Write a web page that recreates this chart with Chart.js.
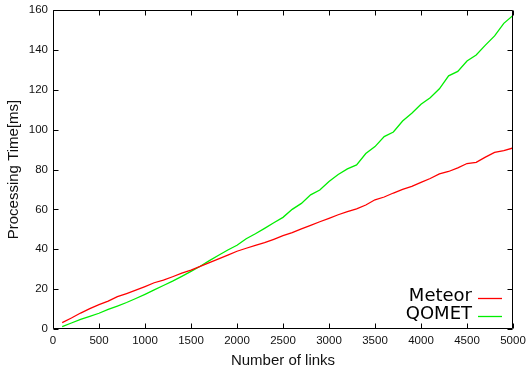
<!DOCTYPE html>
<html>
<head>
<meta charset="utf-8">
<script src="https://cdn.jsdelivr.net/npm/chart.js@4/dist/chart.umd.min.js"></script>
<style>
  html, body { margin: 0; padding: 0; background: #fff; }
  #c { display: block; }
</style>
</head>
<body>
<canvas id="c" width="526" height="370"></canvas>
<script>
// Number of links (x) and processing time in ms for each system
const links = [100,200,300,400,500,600,700,800,900,1000,1100,1200,1300,1400,1500,1600,1700,1800,1900,2000,
  2100,2200,2300,2400,2500,2600,2700,2800,2900,3000,3100,3200,3300,3400,3500,3600,3700,3800,3900,4000,
  4100,4200,4300,4400,4500,4600,4700,4800,4900,5000];

const meteor = [3.2,5.5,8.0,10.2,12.2,14.0,16.2,17.8,19.5,21.3,23.2,24.5,26.2,28.0,29.5,31.4,33.3,35.2,37.1,39.0,
  40.5,42.0,43.3,45.0,46.8,48.3,50.2,52.0,53.8,55.5,57.3,58.9,60.3,62.2,64.8,66.2,68.2,70.0,71.5,73.5,
  75.5,77.8,79.0,80.8,83.0,83.6,86.2,88.6,89.5,90.8];

const qomet = [1.2,3.0,4.8,6.3,7.9,9.8,11.5,13.3,15.3,17.4,19.6,21.8,24.0,26.4,28.9,31.5,34.3,37.0,39.6,42.0,
  45.3,47.8,50.5,53.3,56.0,60.0,63.0,67.3,69.7,74.0,77.5,80.3,82.3,88.0,91.5,96.5,98.8,104.3,108.2,112.7,
  116.0,120.5,127.0,129.2,134.4,137.4,142.4,147.0,153.3,157.3];

const xTicks = [0,500,1000,1500,2000,2500,3000,3500,4000,4500,5000];
const yTicks = [0,20,40,60,80,100,120,140,160];

const seriesNames = ['Meteor', 'QOMET'];
const seriesColors = ['#ff0000', '#00ee00'];

const toPoints = (ys) => links.map((x, i) => ({ x: x, y: ys[i] }));

// Frame with inward ticks on all four sides, plus the key in the lower right
const framePlugin = {
  id: 'frame',
  afterDatasetsDraw(chart) {
    const { ctx, chartArea: a, scales } = chart;
    const L = Math.round(a.left) + 0.5, R = Math.round(a.right) - 0.5;
    const T = Math.round(a.top) + 0.5, B = Math.round(a.bottom) - 0.5;
    const len = 5;
    ctx.save();
    ctx.strokeStyle = '#000';
    ctx.lineWidth = 1;
    ctx.beginPath();
    ctx.rect(L, T, R - L, B - T);
    for (const v of xTicks) {
      const px = Math.round(scales.x.getPixelForValue(v)) + 0.5;
      ctx.moveTo(px, B); ctx.lineTo(px, B - len);
      ctx.moveTo(px, T); ctx.lineTo(px, T + len);
    }
    for (const v of yTicks) {
      const py = Math.round(scales.y.getPixelForValue(v)) + 0.5;
      ctx.moveTo(L, py); ctx.lineTo(L + len, py);
      ctx.moveTo(R, py); ctx.lineTo(R - len, py);
    }
    ctx.stroke();

    // key
    ctx.font = '18px "DejaVu Sans"';
    ctx.textAlign = 'right';
    ctx.textBaseline = 'middle';
    const textRight = a.right - 41;
    const lineX0 = a.right - 35, lineX1 = a.right - 11;
    const rows = [a.bottom - 31, a.bottom - 13];
    chart.data.datasets.forEach((ds, i) => {
      const y = rows[i];
      ctx.fillStyle = '#000';
      ctx.fillText(ds.label, textRight, y - 1.5);
      ctx.strokeStyle = ds.borderColor;
      ctx.lineWidth = 1.3;
      ctx.beginPath();
      ctx.moveTo(lineX0, Math.round(y) + 0.5);
      ctx.lineTo(lineX1, Math.round(y) + 0.5);
      ctx.stroke();
    });
    ctx.restore();
  }
};

const tickFont = { family: '"Liberation Sans", Arial, sans-serif', size: 11.5 };
const titleFont = { family: '"Liberation Sans", Arial, sans-serif', size: 15 };
const plainLabel = (v) => String(v);

new Chart(document.getElementById('c'), {
  type: 'line',
  data: {
    datasets: [
      { label: seriesNames[0], data: toPoints(meteor), borderColor: seriesColors[0], borderWidth: 1.3,
        pointRadius: 0, fill: false, tension: 0 },
      { label: seriesNames[1], data: toPoints(qomet), borderColor: seriesColors[1], borderWidth: 1.3,
        pointRadius: 0, fill: false, tension: 0 }
    ]
  },
  options: {
    responsive: false,
    animation: false,
    layout: { padding: { top: 10, right: 13, bottom: 0, left: 0 } },
    plugins: { legend: { display: false }, tooltip: { enabled: false } },
    scales: {
      x: {
        type: 'linear',
        min: 0, max: 5000,
        afterBuildTicks: (s) => { s.ticks = xTicks.map(v => ({ value: v })); },
        afterFit: (s) => { s.height = 41; s.paddingRight = 0; s.paddingLeft = 0; },
        grid: { display: false, drawTicks: false },
        border: { display: false },
        ticks: { color: '#111', font: tickFont, padding: 5, maxRotation: 0, autoSkip: false,
                 callback: plainLabel },
        title: { display: true, text: 'Number of links', color: '#111', font: titleFont,
                 padding: { top: 0, bottom: 0 } }
      },
      y: {
        type: 'linear',
        min: 0, max: 160,
        afterBuildTicks: (s) => { s.ticks = yTicks.map(v => ({ value: v })); },
        afterFit: (s) => { s.width = 53; s.paddingTop = 0; s.paddingBottom = 0; },
        grid: { display: false, drawTicks: false },
        border: { display: false },
        ticks: { color: '#111', font: tickFont, padding: 5, autoSkip: false, callback: plainLabel },
        title: { display: true, text: 'Processing Time[ms]', color: '#111', font: titleFont,
                 padding: { top: 5, bottom: 0 } }
      }
    }
  },
  plugins: [framePlugin]
});
</script>
</body>
</html>
